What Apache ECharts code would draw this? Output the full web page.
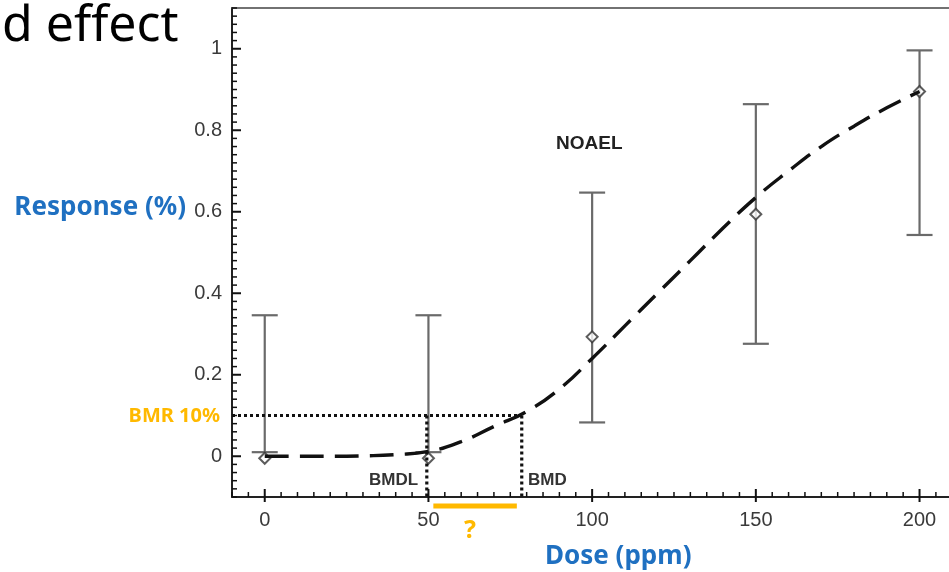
<!DOCTYPE html>
<html><head><meta charset="utf-8">
<script src="https://cdn.jsdelivr.net/npm/echarts@6/dist/echarts.min.js"></script>
<style>html,body{margin:0;padding:0;background:#fff}#c{width:949px;height:572px}</style>
</head><body><div id="c"></div>
<script>
// Observed data
const doses = [0, 50, 100, 150, 200];
const means = [-0.005, -0.005, 0.293, 0.594, 0.895];
const lowerCI = [0.01, 0.01, 0.083, 0.276, 0.543];
const upperCI = [0.346, 0.346, 0.647, 0.864, 0.996];
// Fitted curve
const curveX = [0, 10, 20, 30, 40, 50, 60, 70, 80, 90, 100, 110, 120, 130, 140, 150, 160, 170, 180, 190, 200];
const curveY = [0, 0, 0, 0.001, 0.004, 0.012, 0.036, 0.073, 0.11, 0.165, 0.24, 0.32, 0.40, 0.48, 0.56, 0.635, 0.70, 0.76, 0.81, 0.855, 0.895];
// BMR / BMD / BMDL
const bmr = 0.1;
const bmdl = 49.5;
const bmd = 78.5;
const axisMinY = -0.1;
const axisMaxY = 1.1;
const axisMinX = -10;
const axisMaxX = 209;
const questionBar = [51.5, 77];
const questionY = -0.122;
// Tick labels / tick positions
const yTicks = [0, 0.2, 0.4, 0.6, 0.8, 1];
const xTicks = [0, 50, 100, 150, 200];
const yMinorStep = 0.02;
const xMinorStep = 5;

const chart = echarts.init(document.getElementById('c'));
const lblFont = {fontFamily: 'Liberation Sans, Arial, sans-serif', fontSize: 20, color: '#3a3a3a'};
const axisLine = {show: true, onZero: false, lineStyle: {color: '#222', width: 2}};
const texts = [
  {id: 't1', type: 'text', left: 2, top: 2, style: {text: 'd effect', font: '50px "Noto Sans", sans-serif', fill: '#000'}},
  {id: 't2', type: 'text', right: 763, top: 195, style: {text: 'Response (%)', font: 'bold 26px "Noto Sans", sans-serif', fill: '#1f70c1'}},
  {id: 't3', type: 'text', right: 729, top: 406, style: {text: 'BMR 10%', font: 'bold 20px "Noto Sans", sans-serif', fill: '#ffb900'}},
  {id: 't4', type: 'text', left: 545, top: 544, style: {text: 'Dose (ppm)', font: 'bold 26px "Noto Sans", sans-serif', fill: '#1f70c1'}},
  {id: 't5', type: 'text', left: 464, top: 518, style: {text: '?', font: 'bold 25px "Noto Sans", sans-serif', fill: '#ffb900'}},
  {id: 't6', type: 'text', left: 556, top: 134, style: {text: 'NOAEL', font: 'bold 19px "Liberation Sans", Arial, sans-serif', fill: '#222'}},
  {id: 't7', type: 'text', left: 369, top: 472, style: {text: 'BMDL', font: 'bold 17px "Liberation Sans", Arial, sans-serif', fill: '#333'}},
  {id: 't8', type: 'text', left: 528, top: 472, style: {text: 'BMD', font: 'bold 17px "Liberation Sans", Arial, sans-serif', fill: '#333'}}
];
chart.setOption({
  animation: false,
  grid: {left: 232, top: 8, right: 0, bottom: 75},
  xAxis: [
    {
      type: 'value', min: axisMinX, max: axisMaxX, interval: 10, position: 'bottom',
      axisLine: axisLine, axisTick: {show: false},
      axisLabel: Object.assign({show: true, customValues: xTicks, margin: 13}, lblFont),
      splitLine: {show: false}
    },
    {
      type: 'value', min: axisMinX, max: axisMaxX, position: 'top',
      axisLine: {show: true, onZero: false, lineStyle: {color: '#444', width: 1.6}},
      axisTick: {show: false}, axisLabel: {show: false}, splitLine: {show: false}
    }
  ],
  yAxis: {
    type: 'value', min: axisMinY, max: axisMaxY, interval: 0.1, position: 'left',
    axisLine: axisLine, axisTick: {show: false},
    axisLabel: Object.assign({show: true, customValues: yTicks, margin: 10}, lblFont),
    splitLine: {show: false}
  },
  series: [
    {
      type: 'line', data: [[axisMinX, bmr], [bmd, bmr]], symbol: 'none', silent: true,
      lineStyle: {color: '#111', width: 3.2, type: [3, 3]}
    },
    {
      type: 'line', data: [[bmdl, bmr], [bmdl, axisMinY]], symbol: 'none', silent: true,
      lineStyle: {color: '#111', width: 3.2, type: [3, 3]}
    },
    {
      type: 'line', data: [[bmd, bmr], [bmd, axisMinY]], symbol: 'none', silent: true,
      lineStyle: {color: '#111', width: 3.2, type: [3, 3]}
    },
    {
      type: 'custom',
      data: doses.map((d, i) => [d, lowerCI[i], upperCI[i]]),
      renderItem: function (params, api) {
        const x = api.value(0);
        const lo = api.coord([x, api.value(1)]);
        const hi = api.coord([x, api.value(2)]);
        const hw = 13;
        const st = {stroke: '#6a6a6a', lineWidth: 2.2};
        return {type: 'group', children: [
          {type: 'line', shape: {x1: lo[0], y1: lo[1], x2: hi[0], y2: hi[1]}, style: st},
          {type: 'line', shape: {x1: lo[0] - hw, y1: lo[1], x2: lo[0] + hw, y2: lo[1]}, style: st},
          {type: 'line', shape: {x1: hi[0] - hw, y1: hi[1], x2: hi[0] + hw, y2: hi[1]}, style: st}
        ]};
      }
    },
    {
      type: 'line', smooth: true, symbol: 'none',
      data: curveX.map((x, i) => [x, curveY[i]]),
      lineStyle: {color: '#111', width: 3.4, type: [24, 11]}
    },
    {
      type: 'scatter', symbol: 'diamond', symbolSize: [11, 11],
      data: doses.map((d, i) => [d, means[i]]),
      itemStyle: {color: '#fff', borderColor: '#333', borderWidth: 2}
    },
    {
      type: 'line', clip: false, symbol: 'none', silent: true,
      data: [[questionBar[0], questionY], [questionBar[1], questionY]],
      lineStyle: {color: '#ffb900', width: 5, cap: 'butt'}
    }
  ],
  graphic: texts
});

// Axis ticks: positions come from the chart's own scales via convertToPixel
const tickEls = [];
let k = 0;
for (let i = 0; axisMinY + i * yMinorStep <= axisMaxY + 1e-9; i++) {
  const v = +(axisMinY + i * yMinorStep).toFixed(4);
  const major = yTicks.some(t => Math.abs(t - v) < 1e-6);
  const p = chart.convertToPixel({xAxisIndex: 0, yAxisIndex: 0}, [axisMinX, v]);
  const len = major ? 9 : 5;
  tickEls.push({id: 'tk' + (k++), type: 'line', z: 100, silent: true,
    shape: {x1: p[0], y1: p[1], x2: p[0] + len, y2: p[1]},
    style: {stroke: '#111', lineWidth: major ? 2 : 1.5}});
}
for (let i = 0; axisMinX + i * xMinorStep <= axisMaxX; i++) {
  const v = axisMinX + i * xMinorStep;
  const major = xTicks.indexOf(v) >= 0;
  const p = chart.convertToPixel({xAxisIndex: 0, yAxisIndex: 0}, [v, axisMinY]);
  const len = major ? 8 : 5;
  tickEls.push({id: 'tk' + (k++), type: 'line', z: 100, silent: true,
    shape: {x1: p[0], y1: p[1] + (major ? 5 : 0), x2: p[0], y2: p[1] - len},
    style: {stroke: '#111', lineWidth: major ? 2 : 1.5}});
}
chart.setOption({graphic: texts.concat(tickEls)});
</script></body></html>
